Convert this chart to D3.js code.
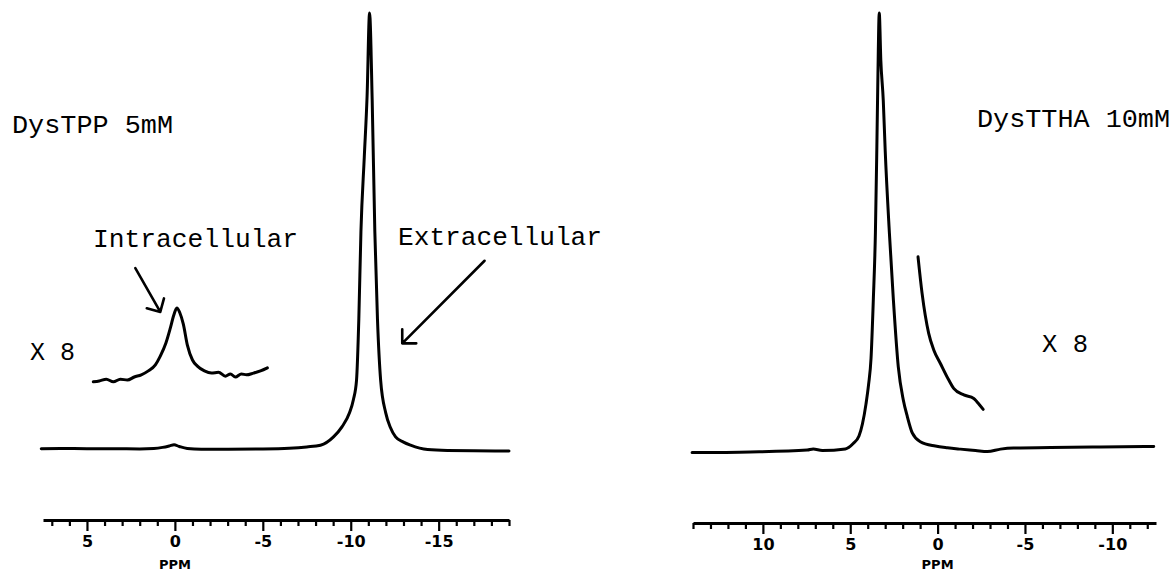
<!DOCTYPE html>
<html>
<head>
<meta charset="utf-8">
<script src="https://cdn.jsdelivr.net/npm/d3@7"></script>
<style>
  body { margin: 0; background: #fff; }
  svg { display: block; }
  .spec { fill: none; stroke: #000; stroke-width: 3; stroke-linejoin: round; stroke-linecap: round; }
  .arrow { fill: none; stroke: #000; stroke-width: 2.6; stroke-linecap: round; stroke-linejoin: round; }
  .label { font-family: "Liberation Mono", monospace; font-size: 25px; fill: #000; }
  .axis path.domain { stroke: #000; stroke-width: 3; }
  .axis line { stroke: #000; stroke-width: 2.2; }
  .axis text { font-family: "DejaVu Sans", sans-serif; font-weight: bold; font-size: 16px; fill: #000; }
  .unit { font-family: "DejaVu Sans", sans-serif; font-weight: bold; font-size: 13px; fill: #000; }
</style>
</head>
<body>
<div id="chart"></div>
<script>
// DysTPP 5mM : [ppm, intensity] (main peak = 100)
const tppMain = [
  [7.6, 0.3], [6.5, 0.35], [5, 0.3], [3.5, 0.3], [2, 0.25], [1.2, 0.35], [0.7, 0.6], [0.3, 0.95],
  [0.05, 1.2], [-0.25, 0.8], [-0.7, 0.35], [-1.5, 0.2], [-3, 0.2], [-5, 0.25], [-6.5, 0.4],
  [-7.5, 0.7], [-8.28, 1.1], [-9.02, 3.0], [-9.5, 5.3], [-9.93, 8.5], [-10.15, 11.5], [-10.33, 16],
  [-10.46, 30], [-10.58, 50], [-10.77, 67], [-10.93, 81], [-11.07, 100], [-11.22, 80], [-11.37, 50],
  [-11.52, 30], [-11.7, 16], [-11.99, 8.5], [-12.25, 5.2], [-12.55, 3.0], [-13.0, 1.8], [-13.4, 1.1],
  [-14.37, 0.1], [-15.5, -0.1], [-17, -0.15], [-19, -0.25]
];
// x 8 expansion around the intracellular peak (drawn offset above the baseline)
const tppInset = [
  [4.64, 15.6], [4.30, 15.8], [3.90, 16.2], [3.50, 15.6], [3.10, 16.2], [2.70, 16.0], [2.31, 16.7],
  [1.91, 17.2], [1.51, 18.1], [1.11, 19.5], [0.83, 21.5], [0.51, 24.5], [0.26, 27.9], [0.06, 30.9],
  [-0.11, 32.5], [-0.28, 31.4], [-0.48, 28.8], [-0.71, 24.0], [-1.0, 20.6], [-1.28, 19.2],
  [-1.68, 18.1], [-2.08, 17.6], [-2.48, 17.8], [-2.87, 16.9], [-3.16, 17.4], [-3.44, 16.7],
  [-3.78, 17.4], [-4.07, 17.2], [-4.47, 17.6], [-4.87, 18.1], [-5.26, 18.8]
];
// DysTTHA 10mM
const tthaMain = [
  [14.05, -0.6], [10.73, -0.45], [7.46, 0], [7.12, 0.25], [6.6, -0.1], [5.28, 0.25], [4.83, 1.5],
  [4.5, 3.2], [4.3, 6], [4.1, 10.5], [3.95, 15], [3.81, 21], [3.68, 34.3], [3.56, 49.7], [3.48, 68.6],
  [3.42, 84.7], [3.34, 100], [3.25, 89.2], [3.11, 80], [3.0, 68.6], [2.76, 49.7], [2.53, 34.3],
  [2.25, 19], [1.96, 11.4], [1.73, 7.6], [1.45, 3.9], [0.99, 1.9], [0.13, 0.9], [-0.56, 0.5],
  [-1.3, 0.2], [-2.17, -0.1], [-2.85, -0.35], [-3.6, 0.2], [-4.34, 0.45], [-6.47, 0.55],
  [-9.33, 0.7], [-12.37, 0.8]
];
const tthaInset = [
  [1.12, 44.2], [0.89, 35.9], [0.51, 26.7], [0.22, 22.9], [-0.16, 19.8], [-0.64, 16.0],
  [-0.92, 14.1], [-1.5, 12.6], [-2.07, 11.8], [-2.26, 11.0], [-2.61, 9.3]
];

const tppTicks = d3.range(7, -20, -1);
const tppMajor = [5, 0, -5, -10, -15];
const tthaTicks = d3.range(14, -13, -1);
const tthaMajor = [10, 5, 0, -5, -10];

const panels = [
  { main: tppMain, inset: tppInset, domain: [7.5, -19], range: [43, 509], axisY: 520, unitY: 569,
    ticks: tppTicks, major: tppMajor },
  { main: tthaMain, inset: tthaInset, domain: [14, -12.5], range: [693, 1156], axisY: 523, unitY: 569,
    ticks: tthaTicks, major: tthaMajor }
];

// arrows: [from ppm, from intensity, to ppm, to intensity], left panel
const arrows = [
  [2.25, 41.6, 0.83, 31.6],
  [-17.61, 43.3, -12.93, 24.4]
];

const labels = [
  { text: "DysTPP 5mM", x: 12, y: 133, w: 161 },
  { text: "Intracellular", x: 93, y: 247, w: 205 },
  { text: "Extracellular", x: 398, y: 245, w: 204 },
  { text: "X 8", x: 30, y: 360, w: 45 },
  { text: "DysTTHA 10mM", x: 977, y: 127, w: 193 },
  { text: "X 8", x: 1042, y: 352, w: 46 }
];

const W = 1173, H = 572;
const svg = d3.select("#chart").append("svg").attr("width", W).attr("height", H);
const y = d3.scaleLinear().domain([0, 100]).range([450, 13]);

panels.forEach(p => {
  p.x = d3.scaleLinear().domain(p.domain).range(p.range);
  const line = d3.line().x(d => p.x(d[0])).y(d => y(d[1])).curve(d3.curveMonotoneX);
  svg.append("path").attr("class", "spec").attr("d", line(p.main));
  svg.append("path").attr("class", "spec").attr("d", line(p.inset));

  const g = svg.append("g").attr("class", "axis").attr("transform", `translate(0,${p.axisY})`);
  g.call(d3.axisBottom(p.x).tickValues(p.ticks.filter(t => !p.major.includes(t)))
    .tickSize(6).tickSizeOuter(0).tickFormat(""));
  const g2 = svg.append("g").attr("class", "axis").attr("transform", `translate(0,${p.axisY})`);
  g2.call(d3.axisBottom(p.x).tickValues(p.major).tickSize(11).tickSizeOuter(0)
    .tickPadding(5).tickFormat(d => String(d)));
  g2.select(".domain").remove();

  svg.append("text").attr("class", "unit").attr("text-anchor", "middle")
    .attr("x", p.x(0)).attr("y", p.unitY).text("PPM");
});

const xl = panels[0].x;
arrows.forEach(a => {
  const x0 = xl(a[0]), y0 = y(a[1]), x1 = xl(a[2]), y1 = y(a[3]);
  const ang = Math.atan2(y0 - y1, x0 - x1), len = 14, spread = Math.PI / 4;
  const h1 = [x1 + len * Math.cos(ang + spread), y1 + len * Math.sin(ang + spread)];
  const h2 = [x1 + len * Math.cos(ang - spread), y1 + len * Math.sin(ang - spread)];
  svg.append("path").attr("class", "arrow")
    .attr("d", `M${x0},${y0}L${x1},${y1}M${h1[0]},${h1[1]}L${x1},${y1}L${h2[0]},${h2[1]}`);
});

svg.selectAll("text.label").data(labels).enter().append("text")
  .attr("class", "label")
  .attr("x", d => d.x).attr("y", d => d.y)
  .attr("textLength", d => d.w).attr("lengthAdjust", "spacingAndGlyphs")
  .text(d => d.text);
</script>
</body>
</html>
